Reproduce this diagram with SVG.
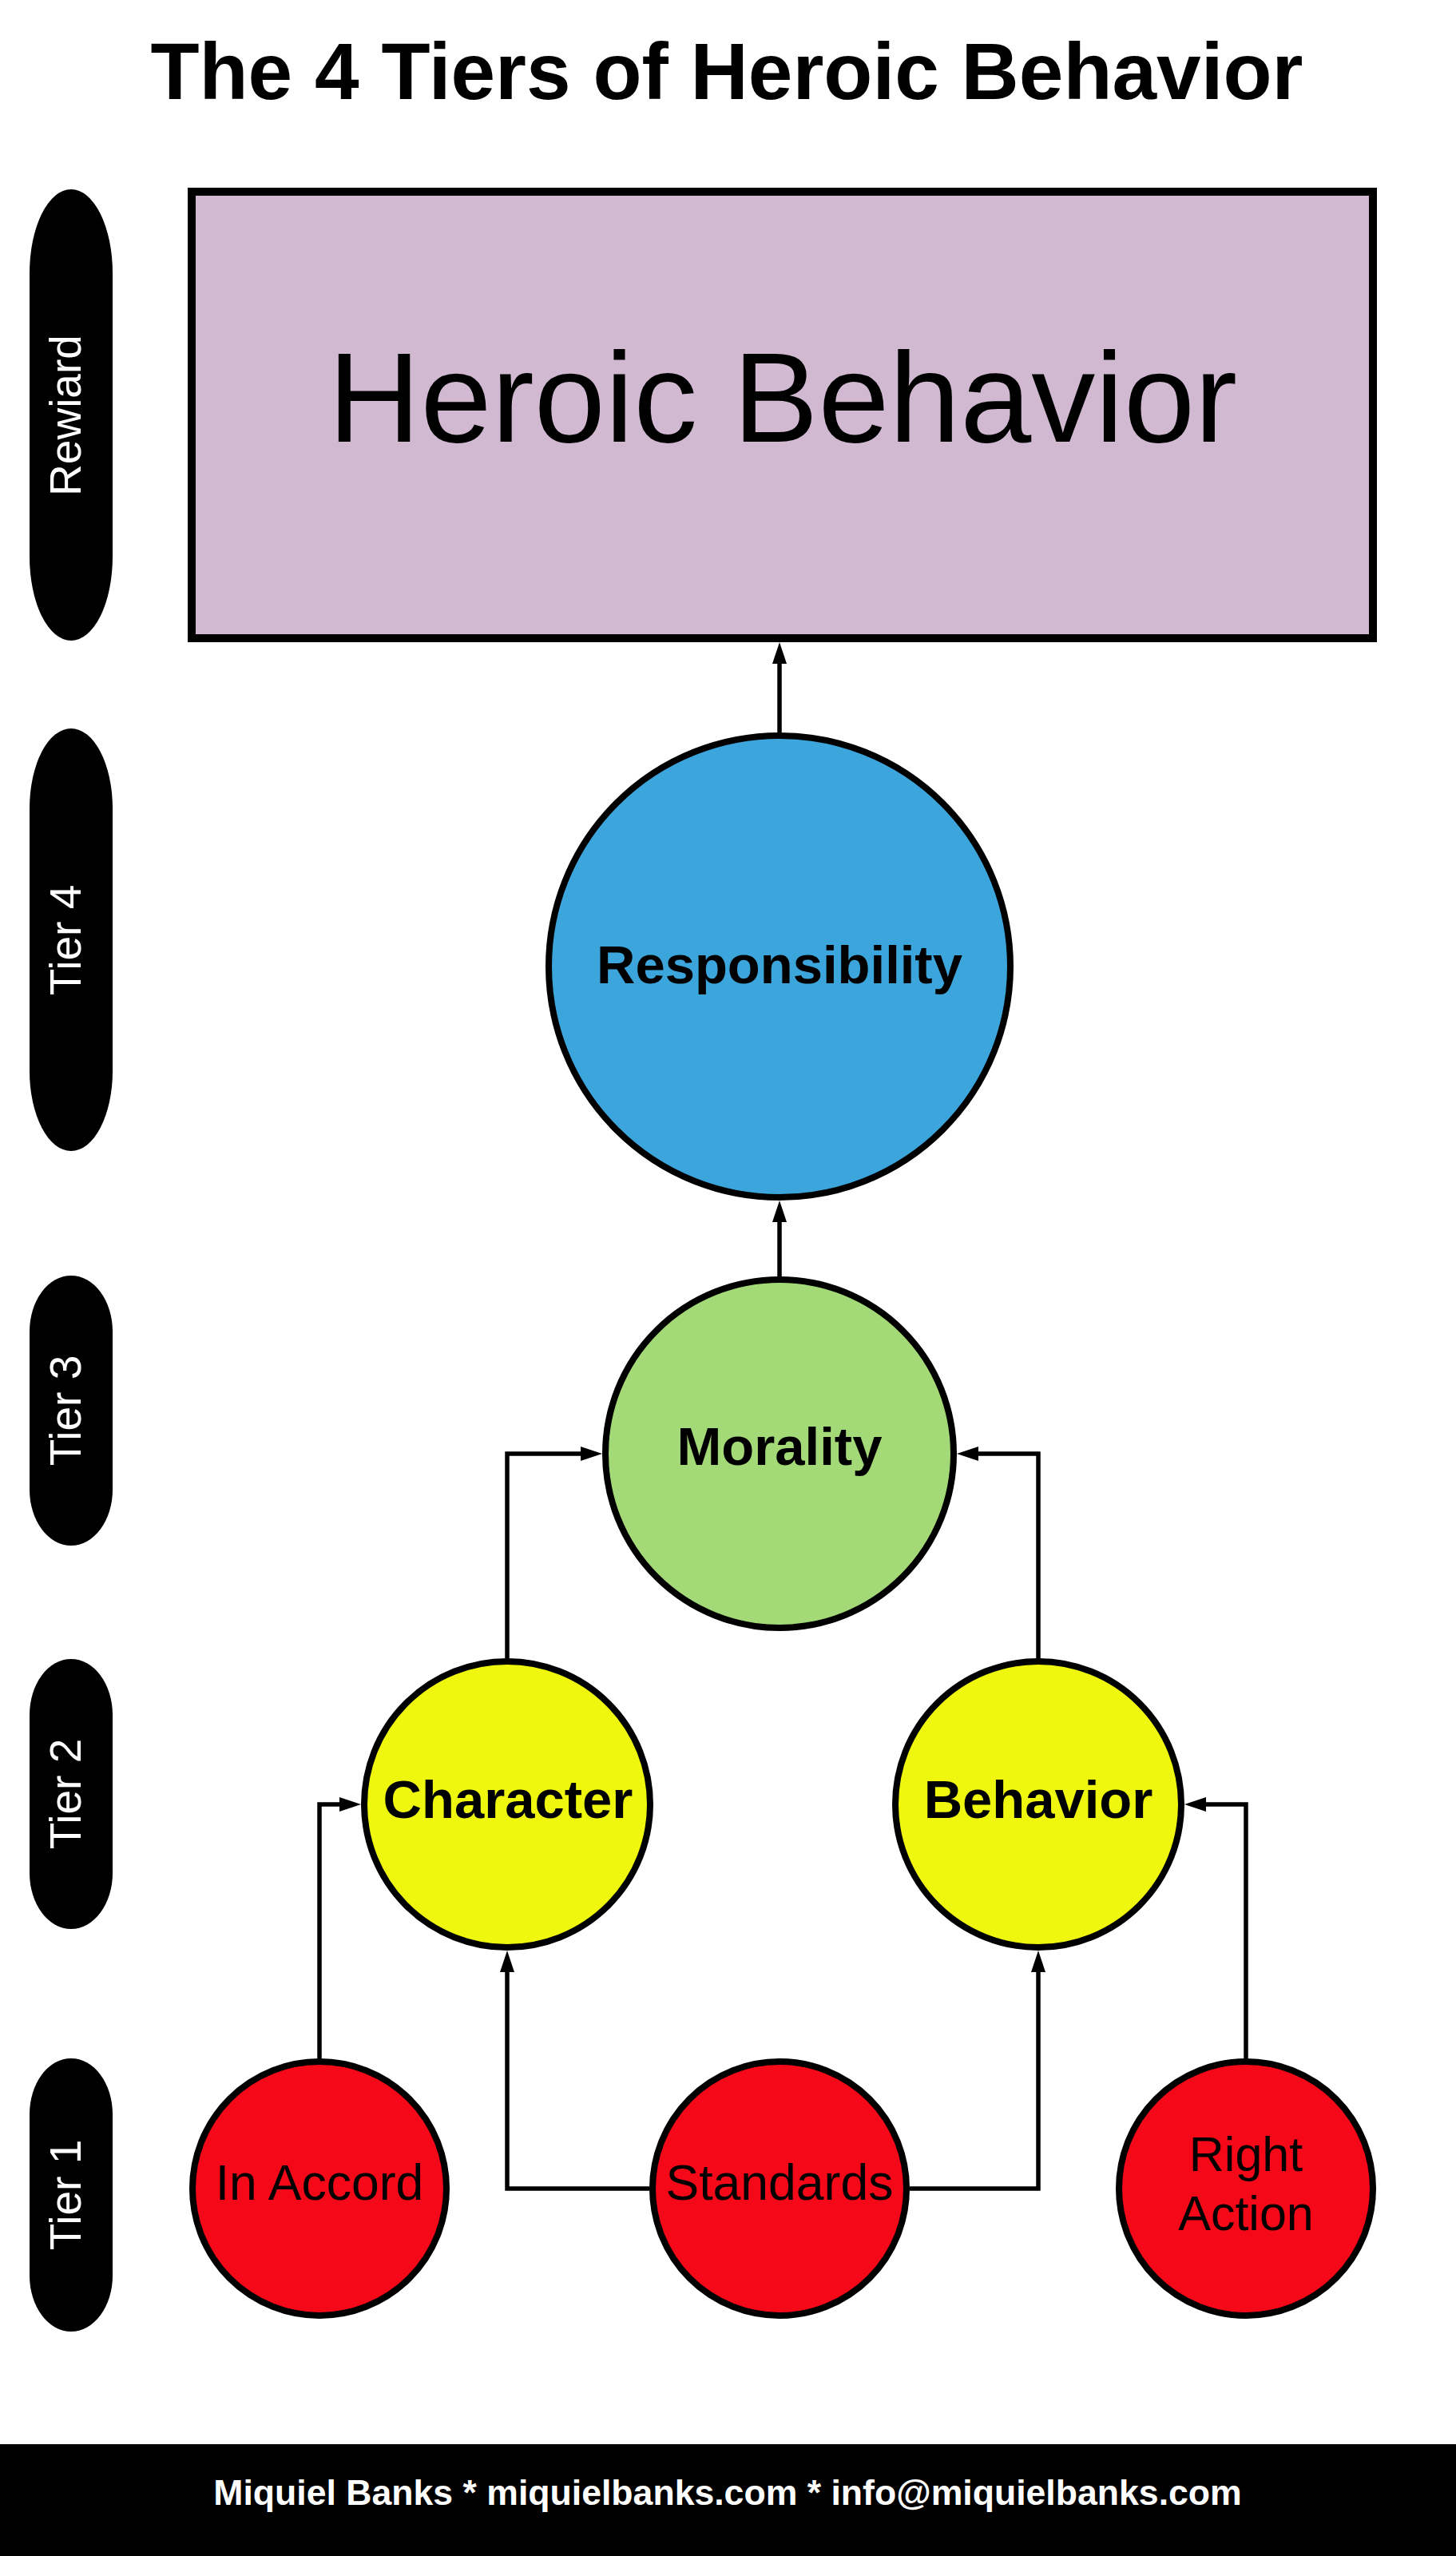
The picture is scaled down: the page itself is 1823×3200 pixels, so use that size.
<svg xmlns="http://www.w3.org/2000/svg" width="1823" height="3200" viewBox="0 0 1823 3200">
<style>
.t{font-family:"Liberation Sans",Arial,sans-serif}
.b{font-weight:bold}
.node{stroke:#000;stroke-width:8}
.pill{fill:#000}
.pt{fill:#fff;font-size:55px}
.cn{fill:none;stroke:#000;stroke-width:5.5}
</style>
<defs>
<marker id="ah" markerUnits="userSpaceOnUse" markerWidth="28" markerHeight="18" refX="0" refY="9" orient="auto" viewBox="0 0 28 18">
<path d="M0,0 L27,9 L0,18 z" fill="#000"/>
</marker>
</defs>
<rect width="1823" height="3200" fill="#fff"/>
<text class="t b" x="910" y="124" font-size="100" text-anchor="middle">The 4 Tiers of Heroic Behavior</text>

<g id="tier-labels">
<g id="pill-reward"><rect class="pill" x="37" y="237" width="104" height="565" rx="52" ry="105"/><text class="t pt" transform="translate(101,520) rotate(-90)" text-anchor="middle">Rewiard</text></g>
<g id="pill-tier4"><rect class="pill" x="37" y="912" width="104" height="529" rx="52" ry="100"/><text class="t pt" transform="translate(101,1177) rotate(-90)" text-anchor="middle">Tier 4</text></g>
<g id="pill-tier3"><rect class="pill" x="37" y="1597" width="104" height="338" rx="52" ry="70"/><text class="t pt" transform="translate(101,1766) rotate(-90)" text-anchor="middle">Tier 3</text></g>
<g id="pill-tier2"><rect class="pill" x="37" y="2077" width="104" height="338" rx="52" ry="70"/><text class="t pt" transform="translate(101,2246) rotate(-90)" text-anchor="middle">Tier 2</text></g>
<g id="pill-tier1"><rect class="pill" x="37" y="2577" width="104" height="342" rx="52" ry="70"/><text class="t pt" transform="translate(101,2748) rotate(-90)" text-anchor="middle">Tier 1</text></g>
</g>

<g id="connectors">
<path class="cn" d="M976,917 V831" marker-end="url(#ah)"/>
<path class="cn" d="M976,1598 V1530" marker-end="url(#ah)"/>
<path class="cn" d="M635,2076 V1820 H727" marker-end="url(#ah)"/>
<path class="cn" d="M1300,2076 V1820 H1225" marker-end="url(#ah)"/>
<path class="cn" d="M400,2577 V2259 H425" marker-end="url(#ah)"/>
<path class="cn" d="M1560,2577 V2259 H1510" marker-end="url(#ah)"/>
<path class="cn" d="M813,2740 H635 V2469" marker-end="url(#ah)"/>
<path class="cn" d="M1139,2740 H1300 V2469" marker-end="url(#ah)"/>
</g>

<g id="heroic-behavior">
<rect x="240" y="240" width="1479" height="559" fill="#D2B9D2" stroke="#000" stroke-width="10"/>
<text class="t" x="980" y="553" font-size="160" text-anchor="middle">Heroic Behavior</text>
</g>
<g id="responsibility">
<circle class="node" cx="976" cy="1210" r="289" fill="#3BA5DC"/>
<text class="t b" x="976" y="1231" font-size="67" text-anchor="middle">Responsibility</text>
</g>
<g id="morality">
<circle class="node" cx="976" cy="1820" r="218" fill="#A3D977"/>
<text class="t b" x="976" y="1834" font-size="67" text-anchor="middle">Morality</text>
</g>
<g id="character">
<circle class="node" cx="635" cy="2259" r="179" fill="#EEF70D"/>
<text class="t b" x="636" y="2276" font-size="67" text-anchor="middle">Character</text>
</g>
<g id="behavior">
<circle class="node" cx="1300" cy="2259" r="179" fill="#EEF70D"/>
<text class="t b" x="1300" y="2276" font-size="67" text-anchor="middle">Behavior</text>
</g>
<g id="in-accord">
<circle class="node" cx="400" cy="2740" r="159" fill="#F50818"/>
<text class="t" x="400" y="2754" font-size="62.5" text-anchor="middle">In Accord</text>
</g>
<g id="standards">
<circle class="node" cx="976" cy="2740" r="159" fill="#F50818"/>
<text class="t" x="976" y="2754" font-size="62.5" text-anchor="middle">Standards</text>
</g>
<g id="right-action">
<circle class="node" cx="1560" cy="2740" r="159" fill="#F50818"/>
<text class="t" x="1560" y="2718" font-size="61" text-anchor="middle">Right</text>
<text class="t" x="1560" y="2792" font-size="61" text-anchor="middle">Action</text>
</g>

<g id="footer">
<rect x="0" y="3060" width="1823" height="140" fill="#000"/>
<text class="t b" x="911" y="3136" font-size="44.6" fill="#fff" text-anchor="middle">Miquiel Banks * miquielbanks.com * info@miquielbanks.com</text>
</g>
</svg>
